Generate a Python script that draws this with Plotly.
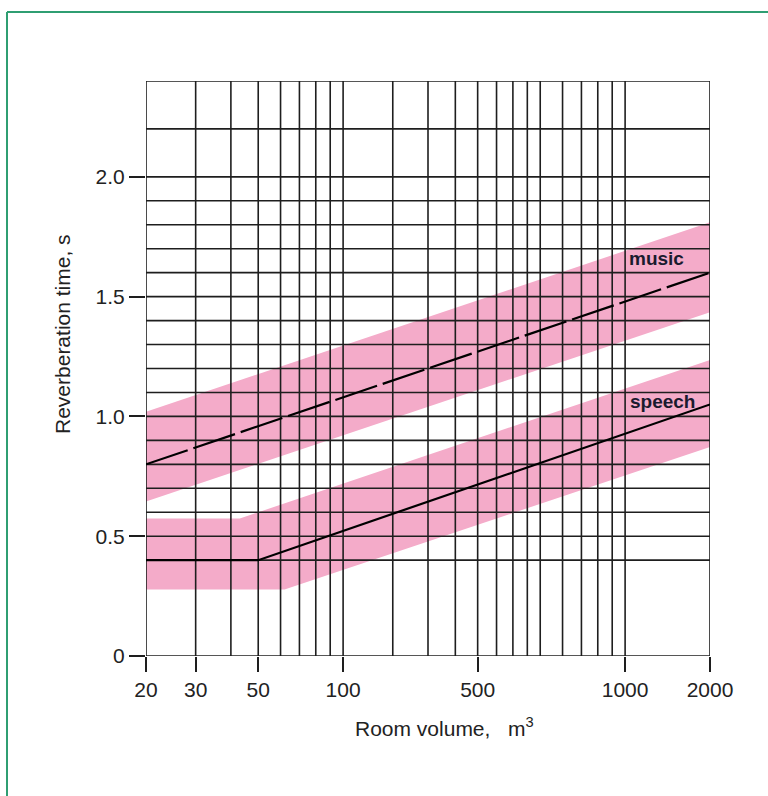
import plotly.graph_objects as go

# ---- data ----
music_x = [20, 2000]
music_center = [0.80, 1.60]
music_upper = [1.02, 1.81]
music_lower = [0.645, 1.435]

speech_center_x = [20, 50, 2000]
speech_center = [0.40, 0.40, 1.05]
speech_upper_x = [20, 43, 2000]
speech_upper = [0.574, 0.574, 1.236]
speech_lower_x = [20, 62, 2000]
speech_lower = [0.278, 0.278, 0.872]

x_grid = [20, 30, 40, 50, 60, 70, 80, 90, 100, 150, 200, 250, 300, 350, 400,
          450, 500, 600, 700, 800, 900, 1000, 2000]
y_grid = [0, 0.4, 0.5, 0.6, 0.7, 0.8, 0.9, 1.0, 1.1, 1.2, 1.3, 1.4, 1.5, 1.6,
          1.7, 1.8, 1.9, 2.0, 2.2, 2.4]

x_tickvals = [20, 30, 50, 100, 300, 1000, 2000]
x_ticktext = ["20", "30", "50", "100", "500", "1000", "2000"]
y_tickvals = [0, 0.5, 1.0, 1.5, 2.0]
y_ticktext = ["0", "0.5", "1.0", "1.5", "2.0"]

X_MIN, X_MAX = 20, 2000
Y_MIN, Y_MAX = 0, 2.4

PINK = "#f4abc9"
INK = "#1e1e1e"
FONT = "Liberation Sans, Arial, sans-serif"

fig = go.Figure()

# bands
fig.add_trace(go.Scatter(
    x=music_x + music_x[::-1], y=music_upper + music_lower[::-1],
    fill="toself", fillcolor=PINK, line=dict(width=0), mode="lines",
    hoverinfo="skip", showlegend=False))
fig.add_trace(go.Scatter(
    x=speech_upper_x + speech_lower_x[::-1], y=speech_upper + speech_lower[::-1],
    fill="toself", fillcolor=PINK, line=dict(width=0), mode="lines",
    hoverinfo="skip", showlegend=False))

# grid
gx, gy = [], []
for v in x_grid:
    gx += [v, v, None]
    gy += [Y_MIN, Y_MAX, None]
for v in y_grid:
    gx += [X_MIN, X_MAX, None]
    gy += [v, v, None]
fig.add_trace(go.Scatter(x=gx, y=gy, mode="lines",
                         line=dict(color=INK, width=1.6),
                         hoverinfo="skip", showlegend=False))

# center lines
fig.add_trace(go.Scatter(x=music_x, y=music_center, mode="lines",
                         line=dict(color="#000", width=2.2, dash="44px,6px"),
                         showlegend=False))
fig.add_trace(go.Scatter(x=speech_center_x, y=speech_center, mode="lines",
                         line=dict(color="#000", width=2.2),
                         showlegend=False))

# labels
fig.add_annotation(x=3.006, y=1.66, xref="x", yref="y", text="<b>music</b>",
                   showarrow=False, xanchor="left", yanchor="middle",
                   font=dict(family=FONT, size=19, color="#1a1a2e"))
fig.add_annotation(x=3.012, y=1.063, xref="x", yref="y", text="<b>speech</b>",
                   showarrow=False, xanchor="left", yanchor="middle",
                   font=dict(family=FONT, size=19, color="#1a1a2e"))

# axis titles
fig.add_annotation(x=(62 - 146) / 564, y=(656 - 334) / 575, xref="paper", yref="paper",
                   text="Reverberation time, s", textangle=-90, showarrow=False,
                   xanchor="center", yanchor="middle",
                   font=dict(family=FONT, size=21, color="#222"))
fig.add_annotation(x=(444 - 146) / 564, y=(656 - 727) / 575, xref="paper", yref="paper",
                   text="Room volume,\u00a0\u00a0\u00a0m<sup>3</sup>", showarrow=False,
                   xanchor="center", yanchor="middle",
                   font=dict(family=FONT, size=21, color="#222"))

# green frame
fig.add_shape(type="line", xref="paper", yref="paper",
              x0=(7 - 146) / 564, x1=(7 - 146) / 564,
              y0=(656 - 12) / 575, y1=(656 - 810) / 575,
              line=dict(color="#2f9e72", width=2))
fig.add_shape(type="line", xref="paper", yref="paper",
              x0=(7 - 146) / 564, x1=(780 - 146) / 564,
              y0=(656 - 12) / 575, y1=(656 - 12) / 575,
              line=dict(color="#2f9e72", width=2))

fig.update_xaxes(type="log", range=[1.30103, 3.30103],
                 tickvals=x_tickvals, ticktext=x_ticktext,
                 showgrid=False, zeroline=False, showline=False,
                 ticks="outside", ticklen=15, tickwidth=1.6, tickcolor=INK,
                 tickfont=dict(family=FONT, size=21, color="#222"))
fig.update_yaxes(range=[Y_MIN, Y_MAX],
                 tickvals=y_tickvals, ticktext=y_ticktext,
                 showgrid=False, zeroline=False, showline=False,
                 ticks="outside", ticklen=16, tickwidth=1.6, tickcolor=INK,
                 tickfont=dict(family=FONT, size=21, color="#222"))

fig.update_layout(width=768, height=796,
                  margin=dict(l=146, r=58, t=81, b=140, pad=0),
                  plot_bgcolor="white", paper_bgcolor="white",
                  showlegend=False)

fig.write_html("out.html")
